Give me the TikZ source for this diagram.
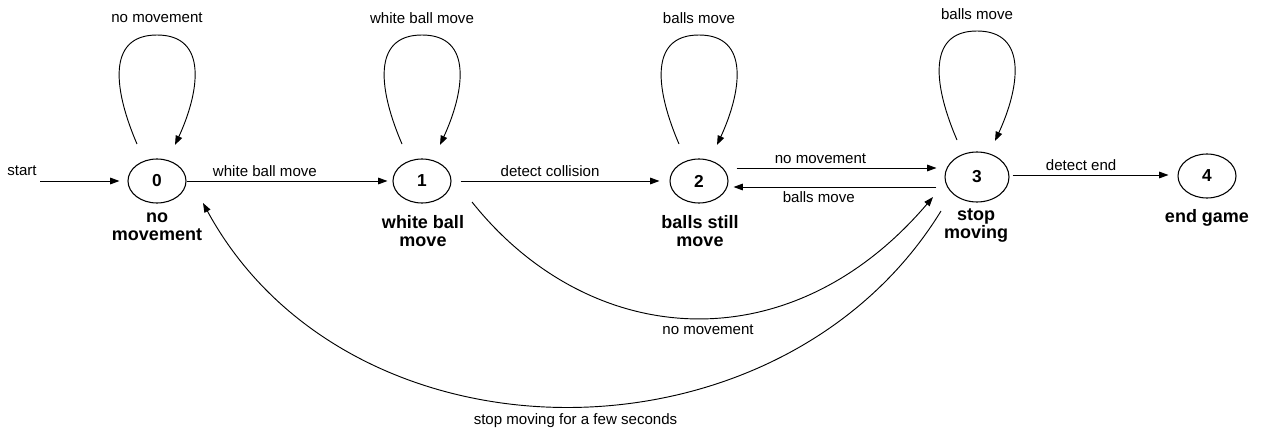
\documentclass[tikz,border=0pt]{standalone}
\usepackage{fontspec}
\setmainfont{Liberation Sans}
\usetikzlibrary{arrows.meta,calc,shapes.geometric}
\newcommand\sloop[2]{%
  \draw[arr] ($(#1)+(-20,-37)$) .. controls ($(#1)+(-42,-88)$) and ($(#1)+(-52,-146)$) .. ($(#1)+(0,-146)$) coordinate (#1top)
    .. controls ($(#1)+(52,-146)$) and ($(#1)+(42,-88)$) .. ($(#1)+(18,-36)$);
  \node[lbl] (#1ll) at ($(#1top)+(0,-17)$) {#2};}
\begin{document}
\begin{tikzpicture}[x=0.75pt,y=-0.75pt,
  state/.style={ellipse,draw,line width=0.8pt,minimum width=43.5pt,minimum height=33pt,inner sep=0pt,font=\fontsize{13}{13}\selectfont\bfseries},
  bigstate/.style={state,minimum width=48pt,minimum height=37.5pt},
  arr/.style={line width=0.7pt,-{Triangle[length=7pt,width=5pt]}},
  lbl/.style={font=\fontsize{11.3}{11.3}\selectfont,inner sep=1pt},
  slbl/.style={font=\fontsize{13.5}{13.5}\selectfont\bfseries,align=center,inner sep=0pt}]
\useasboundingbox (0,0) rectangle (1268,431);
% states
\node[state] (n0) at (157,181) {0};
\node[state] (n1) at (422,181) {1};
\node[state] (n2) at (699,181) {2};
\node[bigstate] (n3) at (977,177) {3};
\node[state] (n4) at (1207,176) {4};
% state names
\node[slbl] (l0) at (157,227) {no\\movement};
\node[slbl] (l1) at (423,231) {white ball\\move};
\node[slbl] (l2) at (700,231) {balls still\\move};
\node[slbl] (l3) at (976,226) {stop\\moving};
\node[slbl] (l4) at (1207,218) {end game};
% start
\coordinate (st) at (40,181);
\node[lbl] (stl) at (22,171) {start};
\draw[arr] (st) -- ($(n0.west)+(-8,0)$);
% self loops
\sloop{n0}{no movement}
\sloop{n1}{white ball move}
\sloop{n2}{balls move}
\sloop{n3}{balls move}
% straight transitions
\draw[arr] (n0.east) -- ($(n1.west)+(-5,0)$) node[lbl,pos=0.39,above=2pt] {white ball move};
\draw[arr] ($(n1.east)+(9,0)$) -- ($(n2.west)+(-10,0)$) node[lbl,pos=0.45,above=2pt] {detect collision};
\draw[arr] ($(n2.east)+(8,-13)$) -- ($(n3.west)+(-8,-9)$) node[lbl,pos=0.42,above=2pt] {no movement};
\draw[arr] ($(n3.west)+(-8,10)$) -- ($(n2.east)+(5,6)$) node[lbl,pos=0.58,below=2pt] {balls move};
\draw[arr] ($(n3.east)+(3,-2)$) -- ($(n4.west)+(-9,-1)$) node[lbl,pos=0.44,above=2pt] {detect end};
% curved transitions
\draw[arr] ($(n1)+(50,21)$) .. controls (590,350) and (790,365) .. ($(n3)+(-44,20)$) node[lbl,pos=0.53,below=4pt] {no movement};
\draw[arr] ($(n3)+(-36,34)$) .. controls (780,473) and (350,473) .. ($(n0)+(46,22)$) node[lbl,pos=0.49,below=4pt] {stop moving for a few seconds};
\end{tikzpicture}
\end{document}
